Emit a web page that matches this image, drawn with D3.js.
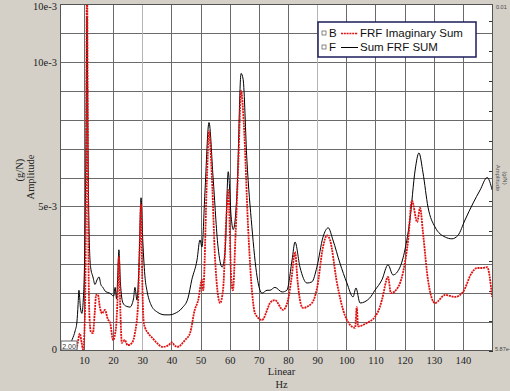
<!DOCTYPE html>
<html>
<head>
<meta charset="utf-8">
<script src="https://cdn.jsdelivr.net/npm/d3@7"></script>
<style>
  body { margin: 0; background: #d4d0c8; }
  svg { display: block; }
</style>
</head>
<body>
<svg id="chart"></svg>
<script>
// Sum FRF SUM (black)
const sumFreq = [2, 4, 5, 6, 7, 7.6, 8.0, 8.3, 8.8, 9.3, 9.8, 10.3, 10.7, 11.05, 11.4, 11.8, 12.3, 13.1, 13.8, 14.5, 15.2, 15.8, 16.5, 17.5, 18.9, 20.2, 20.7, 21.2, 21.6, 22.0, 22.5, 23.4, 24.5, 25.8, 27, 27.5, 28.2, 28.9, 29.6, 30.2, 31, 31.6, 33, 35.1, 37.8, 39.5, 41.2, 43.7, 45.7, 47, 48.8, 49.8, 50.5, 51.5, 52.9, 54.3, 56, 57.4, 58.4, 59.5, 60.5, 61.2, 62.5, 63.9, 64.6, 65.9, 67.6, 69.4, 71.1, 72.8, 73.8, 75.5, 78, 79.6, 81.4, 82.4, 84.1, 86.5, 88.2, 89.9, 92, 93.8, 95.4, 97.8, 100.2, 102.3, 103.3, 104.7, 108, 109.8, 112.2, 114.3, 116, 118.4, 120.1, 121.8, 123.6, 124.9, 126.3, 128, 130.4, 133.9, 136.2, 138.3, 140.7, 143.5, 145.9, 148.3, 150];
const sumAmp = [0.02, 0.05, 0.15, 0.4, 0.7, 1.0, 1.6, 2.1, 1.5, 1.3, 1.8, 3.5, 7, 11.56, 7, 4, 2.9, 2.56, 2.3, 2.46, 2.56, 2.3, 2.2, 2.05, 2.0, 1.9, 2.2, 1.8, 2.6, 3.5, 2.4, 1.66, 1.55, 1.52, 1.8, 2.2, 1.76, 3, 5.3, 3.8, 2.5, 2.1, 1.6, 1.35, 1.25, 1.25, 1.3, 1.49, 1.83, 2.46, 3.15, 3.84, 3.6, 5.47, 7.9, 6.0, 3.6, 2.9, 3.4, 6.2, 4.64, 4.2, 5.47, 9.6, 9.4, 6.6, 4.3, 2.56, 2.0, 2.1, 2.1, 2.2, 2.04, 2.1, 3.15, 3.77, 2.9, 2.35, 2.39, 2.9, 3.94, 4.26, 3.84, 3.04, 2.35, 1.87, 2.18, 1.66, 1.83, 2.1, 2.46, 2.98, 2.63, 2.9, 3.5, 4.53, 6.26, 6.85, 6.16, 4.98, 4.29, 3.94, 3.88, 4.0, 4.53, 5.12, 5.57, 6.0, 5.57];

// FRF Imaginary Sum (red)
const imagFreq = [2, 7, 7.6, 8.6, 9.2, 9.7, 10.3, 10.7, 11.05, 11.5, 11.9, 12.4, 13.1, 13.7, 14.2, 14.8, 15.5, 16.2, 17.2, 18.2, 19, 20, 21, 21.6, 22, 22.5, 23, 24, 25, 26.5, 27.5, 28.5, 29.1, 29.6, 30.0, 30.5, 31, 32, 33.5, 35, 37, 39, 40.2, 41, 42, 44.7, 46.4, 48, 49.2, 50.5, 50.9, 52.2, 52.9, 53.9, 55, 56.7, 57.7, 59, 59.5, 60.5, 61.1, 62, 63, 63.9, 64.9, 66.3, 67.7, 68.7, 71.1, 73.2, 73.8, 75.5, 78.3, 80, 81.3, 82.4, 83.3, 84.1, 85.1, 88.2, 90, 92, 93.4, 94.4, 96.8, 98.9, 101.3, 103, 103.6, 104, 107, 109.8, 111.5, 112.2, 114.3, 115.3, 117.7, 119.4, 121.2, 122.5, 124.3, 125.3, 126.3, 128, 130.4, 133.9, 137.3, 140, 143, 144.8, 146.6, 148.3, 150];
const imagAmp = [0, 0, 0.14, 0.6, 0.3, 0.05, 1.0, 5, 13, 4, 1.2, 0.66, 0.62, 1.3, 1.94, 1.94, 1.5, 1.3, 1.42, 1.1, 0.97, 0.38, 0.8, 2.0, 3.25, 1.4, 0.28, 0.38, 0.2, 0.28, 0.62, 1.5, 3.5, 5.1, 2.5, 1.0, 0.8, 0.62, 0.45, 0.28, 0.14, 0.2, 0.3, 0.2, 0.14, 0.38, 0.62, 1.42, 1.76, 2.46, 2.1, 6.0, 7.6, 6.0, 3.15, 1.66, 2.1, 4.9, 5.57, 2.56, 2.1, 4.0, 6.6, 9.0, 7.75, 4.3, 2.0, 1.3, 1.07, 1.52, 1.66, 1.76, 1.42, 1.76, 2.6, 3.43, 2.4, 1.76, 1.49, 1.66, 2.2, 3.6, 4.0, 3.84, 2.35, 1.42, 0.9, 0.8, 1.52, 0.85, 0.97, 1.18, 1.52, 1.76, 2.56, 2.0, 2.2, 2.7, 3.84, 5.2, 4.46, 4.95, 4.08, 2.46, 1.66, 1.94, 1.87, 2.04, 2.7, 2.87, 2.87, 2.9, 1.87];

const xTicks = [10, 20, 30, 40, 50, 60, 70, 80, 90, 100, 110, 120, 130, 140];
const yTickValues = [0, 5, 10, 12];
const yTickLabels = ["0", "5e-3", "10e-3", "10e-3"];
const rightTickLabels = ["0.01", "5.87e-"];
const legendLabels = ["FRF Imaginary Sum", "Sum FRF SUM"];
const legendKeys = ["B", "F"];

const W = 510, H = 391;
const marge = { top: 4, bottom: 40, left: 60, right: 17 };
const innerW = W - marge.left - marge.right;
const innerH = H - marge.top - marge.bottom;

const svg = d3.select("#chart").attr("width", W).attr("height", H);
svg.append("rect").attr("width", W).attr("height", H).attr("fill", "#d4d0c8");

const g = svg.append("g").attr("transform", `translate(${marge.left},${marge.top})`);

const xScale = d3.scaleLinear().domain([1.8, 150.3]).range([0, innerW]);
const yScale = d3.scaleLinear().domain([0, 12]).range([innerH, 0]);

g.append("rect").attr("width", innerW).attr("height", innerH).attr("fill", "#fff");

// grid
g.append("g").selectAll("line").data(d3.range(1, 12)).enter().append("line")
  .attr("x1", 0).attr("x2", innerW)
  .attr("y1", d => Math.round(yScale(d)) + 0.5).attr("y2", d => Math.round(yScale(d)) + 0.5)
  .attr("stroke", "#6a6a6a").attr("stroke-width", 1);
g.append("g").selectAll("line").data(xTicks).enter().append("line")
  .attr("x1", d => Math.round(xScale(d)) + 0.5).attr("x2", d => Math.round(xScale(d)) + 0.5)
  .attr("y1", 0).attr("y2", innerH)
  .attr("stroke", d => (d === 30 || d === 90) ? "#b4b4b4" : "#6a6a6a").attr("stroke-width", 1);

// right side inner ticks
g.append("g").selectAll("line").data(d3.range(0, 12)).enter().append("line")
  .attr("x1", innerW - 4).attr("x2", innerW)
  .attr("y1", d => Math.round(innerH - d * 30) + 0.5).attr("y2", d => Math.round(innerH - d * 30) + 0.5)
  .attr("stroke", "#333");

// curves
svg.append("clipPath").attr("id", "clip").append("rect").attr("width", innerW).attr("height", innerH);
const lineGen = d3.line().x(d => xScale(d[0])).y(d => yScale(d[1])).curve(d3.curveMonotoneX);
const plot = g.append("g").attr("clip-path", "url(#clip)");
plot.append("path").datum(d3.zip(sumFreq, sumAmp))
  .attr("d", lineGen).attr("fill", "none").attr("stroke", "#000").attr("stroke-width", 1);
plot.append("path").datum(d3.zip(imagFreq, imagAmp))
  .attr("d", lineGen).attr("fill", "none").attr("stroke", "#e01010").attr("stroke-width", 1.8)
  .attr("stroke-dasharray", "2,0.8");

// border
g.append("rect").attr("x", 0.5).attr("y", 0.5).attr("width", innerW - 1).attr("height", innerH - 1)
  .attr("fill", "none").attr("stroke", "#555");

// axes
const xAxis = d3.axisBottom(xScale).tickValues(xTicks).tickSize(0).tickPadding(6);
const xg = g.append("g").attr("transform", `translate(0,${innerH})`).call(xAxis);
xg.select(".domain").remove();
xg.selectAll("text").attr("font-family", "Liberation Serif").attr("font-size", 10.5).attr("fill", "#222");

const yAxis = d3.axisLeft(yScale).tickValues(yTickValues).tickSize(0).tickPadding(3)
  .tickFormat((d, i) => yTickLabels[i]);
const yg = g.append("g").call(yAxis);
yg.select(".domain").remove();
yg.selectAll("text").attr("font-family", "Liberation Serif").attr("font-size", 10.5).attr("fill", "#222");
yg.selectAll(".tick").filter(d => d === 12).select("text").attr("dy", "0.55em");
yg.selectAll(".tick").filter(d => d === 0).select("text").attr("dy", "0.1em");

// start-frequency box
const sb = g.append("g").attr("transform", `translate(1,${innerH - 10})`);
sb.append("rect").attr("width", 16).attr("height", 9).attr("fill", "#fff").attr("stroke", "#666");
sb.append("text").attr("x", 8).attr("y", 7.5).attr("text-anchor", "middle")
  .attr("font-family", "Liberation Sans").attr("font-size", 7).attr("fill", "#333").text("2.00");

// axis titles
svg.append("text").attr("x", marge.left + innerW / 2 + 5).attr("y", 375).attr("text-anchor", "middle")
  .attr("font-family", "Liberation Serif").attr("font-size", 10.5).attr("fill", "#222").text("Linear");
svg.append("text").attr("x", marge.left + innerW / 2 + 5).attr("y", 388).attr("text-anchor", "middle")
  .attr("font-family", "Liberation Serif").attr("font-size", 10.5).attr("fill", "#222").text("Hz");
svg.append("text").attr("transform", "translate(34,177) rotate(-90)").attr("text-anchor", "middle")
  .attr("font-family", "Liberation Serif").attr("font-size", 10.5).attr("fill", "#222").text("Amplitude");
svg.append("text").attr("transform", "translate(23,170) rotate(-90)").attr("text-anchor", "middle")
  .attr("font-family", "Liberation Serif").attr("font-size", 10.5).attr("fill", "#222").text("(g/N)");

// right axis labels
svg.append("text").attr("x", 496).attr("y", 9).attr("font-family", "Liberation Sans")
  .attr("font-size", 5.5).attr("fill", "#444").text(rightTickLabels[0]);
svg.append("text").attr("x", 495).attr("y", 351).attr("font-family", "Liberation Sans")
  .attr("font-size", 5.5).attr("fill", "#444").text(rightTickLabels[1]);
svg.append("text").attr("transform", "translate(496,178) rotate(90)").attr("text-anchor", "middle")
  .attr("font-family", "Liberation Sans").attr("font-size", 6).attr("fill", "#555").text("Amplitude");
svg.append("text").attr("transform", "translate(503,178) rotate(90)").attr("text-anchor", "middle")
  .attr("font-family", "Liberation Sans").attr("font-size", 6).attr("fill", "#555").text("(g/N)");

// legend
const lg = svg.append("g").attr("transform", "translate(318,22)");
lg.append("rect").attr("width", 158).attr("height", 35).attr("fill", "#fff")
  .attr("stroke", "#1c1c5a").attr("stroke-width", 1.5);
legendLabels.forEach((lab, i) => {
  const y = 11 + i * 14;
  lg.append("rect").attr("x", 4).attr("y", y - 2).attr("width", 4).attr("height", 4)
    .attr("fill", "#fff").attr("stroke", "#555").attr("stroke-width", 0.7);
  lg.append("text").attr("x", 11).attr("y", y + 4).attr("font-family", "Liberation Sans")
    .attr("font-size", 11.5).attr("fill", "#111").text(legendKeys[i]);
  lg.append("line").attr("x1", 23).attr("x2", 40).attr("y1", y + 0.5).attr("y2", y + 0.5)
    .attr("stroke", i === 0 ? "#e01010" : "#000").attr("stroke-width", i === 0 ? 1.6 : 1)
    .attr("stroke-dasharray", i === 0 ? "2,0.8" : null);
  lg.append("text").attr("x", 42).attr("y", y + 4).attr("font-family", "Liberation Sans")
    .attr("font-size", 11.5).attr("fill", "#111").text(lab);
});
</script>
</body>
</html>
